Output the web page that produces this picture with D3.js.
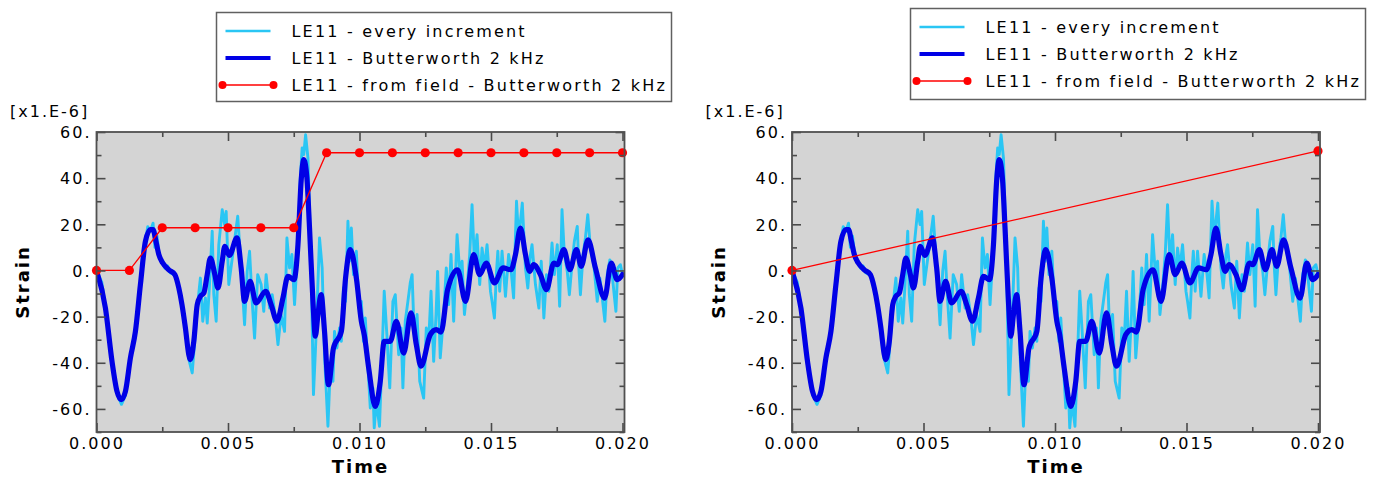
<!DOCTYPE html>
<html>
<head>
<meta charset="utf-8">
<script src="https://cdn.jsdelivr.net/npm/d3@7"></script>
<style>
  body { margin: 0; background: #ffffff; }
  text { font-family: "DejaVu Sans", Verdana, sans-serif; }
</style>
</head>
<body>
<div id="chart"></div>
<script>
// Times are in ms, strains in micro-strain [x1.E-6]

const rawTime = [
    0, 0.2, 0.35, 0.6, 0.8, 0.95, 1.1, 1.3, 1.48, 1.67, 1.86, 1.95, 2.05, 2.15, 2.22, 2.3, 2.4, 2.52, 2.6, 2.7,
    2.8, 2.98, 3.1, 3.25, 3.38, 3.5, 3.64, 3.75, 3.89, 3.95, 4.04, 4.14, 4.21, 4.29, 4.4, 4.46, 4.55, 4.65, 4.78, 4.87,
    4.93, 5.03, 5.18, 5.37, 5.5, 5.63, 5.73, 5.82, 5.92, 6.01, 6.13, 6.26, 6.36, 6.45, 6.58, 6.68, 6.79, 6.9, 7.02, 7.15,
    7.24, 7.34, 7.43, 7.53, 7.66, 7.75, 7.82, 7.88, 7.95, 8.04, 8.1, 8.16, 8.25, 8.35, 8.48, 8.58, 8.67, 8.8, 8.89, 8.99,
    9.05, 9.14, 9.24, 9.31, 9.39, 9.47, 9.56, 9.62, 9.69, 9.77, 9.88, 9.98, 10.07, 10.15, 10.22, 10.31, 10.41, 10.51, 10.56, 10.64,
    10.76, 10.85, 10.94, 11.04, 11.15, 11.27, 11.36, 11.49, 11.58, 11.65, 11.74, 11.84, 11.93, 12.0, 12.08, 12.19, 12.29, 12.44, 12.54, 12.63,
    12.72, 12.82, 12.91, 12.97, 13.07, 13.2, 13.3, 13.39, 13.48, 13.58, 13.71, 13.81, 13.9, 13.99, 14.09, 14.19, 14.28, 14.37, 14.47, 14.57,
    14.66, 14.75, 14.85, 14.98, 15.04, 15.13, 15.21, 15.26, 15.33, 15.42, 15.55, 15.67, 15.78, 15.86, 15.97, 16.05, 16.12, 16.19, 16.31, 16.4,
    16.5, 16.56, 16.69, 16.82, 16.91, 17.01, 17.11, 17.2, 17.32, 17.41, 17.52, 17.61, 17.7, 17.79, 17.9, 17.98, 18.09, 18.17, 18.28, 18.34,
    18.4, 18.5, 18.59, 18.68, 18.78, 18.91, 19.04, 19.14, 19.23, 19.33, 19.42, 19.52, 19.61, 19.67, 19.75, 19.82, 19.92, 20.0
];
const rawStrain = [
    0, -5, -17, -40, -54, -58, -54, -37, -25, -5, 13, 19, 17, 20.5, 10, 15, 5, 4, 1, 2,
    -1, -2, -6, -16, -26, -38, -44.4, -28, -9.8, -3.3, -22, -11.9, -22.8, -7.6, 17, -10.5, -22, 11.2, 26.3, 19.9,
    25.6, -6.1, 6.9, 23.5, 1.1, -23.5, -0.4, 8.3, -13.4, -29.3, -1.8, -6.1, -17.7, -1.8, -16.3, -10.5, -19.1, -32.1, -19.1, -26.4,
    14.1, 1.1, 6.9, -14.8, 11.2, 40.1, 53.1, 50.2, 58.8, 48.7, 25.6, 1.1, -53.8, -27.8, 14.1, 1.1, -36.5, -67.5, -42.3, -48,
    -26.4, -33.6, -24.9, -30.7, -7.6, -13.4, 21.3, 4, 18.4, -1.8, 8.3, -16.3, -13.4, -30.7, -20.6, -39.4, -59.6, -50.9, -68.2, -56.7,
    -67.5, -39.4, -9, -27.8, -50.9, -13.4, -10.5, -36.5, -24.9, -50.9, -22, -13.4, -5.4, -1.8, -27.8, -19.1, -48, -55.3, -24.9, -30.7,
    -9, -39.4, -19.1, -0.4, -37.9, -19.1, 1.1, -14.8, 6.9, -22, 15.5, -0.4, 4, -19.1, -7.6, 6.9, 28.5, 4, 15.5, -6.1,
    9.7, 1.1, 11.2, -9, -13.4, -20.6, -0.4, 8.3, -9, 8.3, -11.2, 6.9, -1.8, -11.9, 30, 14.1, 21.3, 29.2, 1.1, -7.6,
    6.9, 11.2, -6.1, -16.3, 4, -20.6, -1.8, -9, 11.9, -1.8, 11.2, -15.5, 26.3, 6.9, -0.4, -10.5, 4, 12.6, 19.1, 1.1,
    -10.5, 6.9, 14.1, 24.2, 9.7, 2.5, -13.4, -3.3, -11.9, -22, -1.8, 4.6, -1.8, -9, -17.7, 1.1, 2.5, -1.8
];

const filtTime = [
    0, 0.34, 0.59, 0.78, 0.94, 1.1, 1.29, 1.48, 1.67, 1.86, 2.05, 2.15, 2.26, 2.37, 2.52, 2.75, 2.98, 3.13, 3.25, 3.38,
    3.51, 3.57, 3.7, 3.83, 3.95, 4.08, 4.21, 4.33, 4.5, 4.62, 4.78, 4.88, 5.05, 5.34, 5.5, 5.63, 5.84, 6.07, 6.43, 6.64,
    6.86, 7.09, 7.28, 7.51, 7.66, 7.78, 7.88, 8.0, 8.1, 8.23, 8.32, 8.42, 8.54, 8.67, 8.82, 9.01, 9.31, 9.47, 9.65, 9.88,
    10.07, 10.18, 10.35, 10.6, 10.79, 10.94, 11.17, 11.4, 11.68, 11.96, 12.16, 12.34, 12.69, 12.92, 13.1, 13.35, 13.73, 14.03, 14.34, 14.57,
    14.82, 15.13, 15.46, 15.76, 15.93, 16.12, 16.31, 16.47, 16.62, 16.88, 17.11, 17.39, 17.52, 17.77, 18.0, 18.25, 18.43, 18.69, 18.97, 19.32,
    19.57, 19.8, 20.0
];
const filtStrain = [
    0, -16.3, -39.4, -52.4, -56, -52.4, -37.9, -26.4, -6.1, 12.6, 17.7, 17.7, 12.6, 6.9, 3.2, 0.3, -1.8, -7.6, -14.8, -24.9,
    -36.5, -38.6, -30.7, -14.8, -11.2, -9.8, -1.8, 5.4, -1.8, -7.6, 4, 10.5, 6.5, 14.1, 1.1, -13.4, -4.7, -14.1, -9, -14.8,
    -22, -11.9, -2.5, -4, 11.2, 38.6, 48, 40.1, 18.4, -13.4, -28.5, -19.1, -10.5, -26.4, -49.5, -33.6, -26.4, -3.3, 9, -3.3,
    -22, -27.8, -42.3, -58.9, -48, -30.7, -30.7, -22, -35.8, -18.4, -32.1, -41.5, -27.8, -25.6, -26.7, -8.3, 0.3, -13.4, 6.9, -1.8,
    3.2, -5.4, 1.1, 0.3, 6.9, 18.4, 6.9, -0.4, 2.5, -1.8, -8.3, 3.2, 2.5, 9, 0.3, 9, 1.8, 13.3, 1.1, -12,
    3.2, -4, -1.8
];

// "from field" output: every 1.25 ms on the left, only the two frames on the right
const fieldTimeAll = [0, 1.25, 2.5, 3.75, 5, 6.25, 7.5, 8.75, 10, 11.25, 12.5, 13.75, 15, 16.25, 17.5, 18.75, 20];
const fieldStrainAll = [0, 0, 18.5, 18.5, 18.5, 18.5, 18.5, 51, 51, 51, 51, 51, 51, 51, 51, 51, 51];
const fieldTimeEnds = [0, 20];
const fieldStrainEnds = [0, 51.8];

const xTicks = [0, 5, 10, 15, 20];
const xTickLabels = ['0.000', '0.005', '0.010', '0.015', '0.020'];
const xMinorTicks = [2.5, 7.5, 12.5, 17.5];
const yTicks = [-60, -40, -20, 0, 20, 40, 60];
const yTickLabels = ['-60.', '-40.', '-20.', '0.', '20.', '40.', '60.'];
const yMinorTicks = [-70, -50, -30, -10, 10, 30, 50];

const legendLabels = [
    'LE11 - every increment',
    'LE11 - Butterworth 2 kHz',
    'LE11 - from field - Butterworth 2 kHz'
];

function strainChart() {
    let canvas;

    let offsetX = 0,
        plot = {left: 96.5, top: 132, width: 526, height: 300},
        legend = {x: 216.5, y: 12.5, width: 455, height: 89},
        colors = {raw: '#2ac6f4', filt: '#0000e6', field: '#ff0000', bg: '#d4d4d4', frame: '#505050'};

    let fieldTime = null,
        fieldStrain = null,
        chartId = 'c';

    let x, y;

    function chart(svg) {
        x = d3.scaleLinear().domain([0, 20]).range([plot.left, plot.left + plot.width]);
        y = d3.scaleLinear().domain([-70, 60]).range([plot.top + plot.height, plot.top]);

        canvas = svg.append('g').attr('transform', 'translate(' + offsetX + ',0)');

        canvas.append('rect')
            .attr('x', plot.left)
            .attr('y', plot.top)
            .attr('width', plot.width + 2)
            .attr('height', plot.height)
            .attr('fill', colors.bg);

        canvas.append('clipPath')
            .attr('id', 'clip-' + chartId)
            .append('rect')
            .attr('x', plot.left)
            .attr('y', plot.top)
            .attr('width', plot.width + 2)
            .attr('height', plot.height);

        drawSeries();
        drawAxes();
        drawLegend();
    }

    // #region Chart drawing

    function drawSeries() {
        let g = canvas.append('g').attr('clip-path', 'url(#clip-' + chartId + ')');

        let rawLine = d3.line()
            .x(function(d, i) { return x(rawTime[i]); })
            .y(function(d) { return y(d); });

        g.append('path')
            .datum(rawStrain)
            .attr('d', rawLine)
            .attr('fill', 'none')
            .attr('stroke', colors.raw)
            .attr('stroke-width', 2.9)
            .attr('stroke-linejoin', 'round');

        let filtLine = d3.line()
            .x(function(d, i) { return x(filtTime[i]); })
            .y(function(d) { return y(d); })
            .curve(d3.curveMonotoneX);

        g.append('path')
            .datum(filtStrain)
            .attr('d', filtLine)
            .attr('fill', 'none')
            .attr('stroke', colors.filt)
            .attr('stroke-width', 5.2)
            .attr('stroke-linejoin', 'round')
            .attr('stroke-linecap', 'round');

        let fieldLine = d3.line()
            .x(function(d, i) { return x(fieldTime[i]); })
            .y(function(d) { return y(d); });

        canvas.append('path')
            .datum(fieldStrain)
            .attr('d', fieldLine)
            .attr('fill', 'none')
            .attr('stroke', colors.field)
            .attr('stroke-width', 1.3);

        canvas.selectAll('.field-dot')
            .data(fieldStrain)
            .enter()
            .append('circle')
            .attr('class', 'field-dot')
            .attr('cx', function(d, i) { return x(fieldTime[i]); })
            .attr('cy', function(d) { return y(d); })
            .attr('r', 4.6)
            .attr('fill', colors.field);
    }

    function styleAxis(g) {
        g.select('.domain').remove();
        g.selectAll('.tick line').attr('stroke', '#4a4a4a').attr('stroke-width', 1.6);
        g.selectAll('.tick text')
            .attr('fill', '#000')
            .style('font-size', '16px')
            .style('letter-spacing', '2px');
    }

    function drawAxes() {
        let bottom = plot.top + plot.height,
            right = plot.left + plot.width;

        // Major ticks point into the plot, minor ones are shorter
        canvas.append('g')
            .attr('transform', 'translate(' + plot.left + ',0)')
            .call(d3.axisLeft(y).tickValues(yTicks).tickSize(-9).tickPadding(5)
                .tickFormat(function(d, i) { return yTickLabels[i]; }))
            .call(styleAxis)
            .selectAll('.tick text').attr('dy', '0.36em');

        canvas.append('g')
            .attr('transform', 'translate(' + plot.left + ',0)')
            .call(d3.axisLeft(y).tickValues(yMinorTicks).tickSize(-5).tickFormat(''))
            .call(styleAxis);

        canvas.append('g')
            .attr('transform', 'translate(' + (right + 2) + ',0)')
            .call(d3.axisRight(y).tickValues(yTicks).tickSize(-9).tickFormat(''))
            .call(styleAxis);

        canvas.append('g')
            .attr('transform', 'translate(' + (right + 2) + ',0)')
            .call(d3.axisRight(y).tickValues(yMinorTicks).tickSize(-5).tickFormat(''))
            .call(styleAxis);

        canvas.append('g')
            .attr('transform', 'translate(0,' + bottom + ')')
            .call(d3.axisBottom(x).tickValues(xTicks).tickSize(-9).tickPadding(6)
                .tickFormat(function(d, i) { return xTickLabels[i]; }))
            .call(styleAxis);

        canvas.append('g')
            .attr('transform', 'translate(0,' + bottom + ')')
            .call(d3.axisBottom(x).tickValues(xMinorTicks).tickSize(-5).tickFormat(''))
            .call(styleAxis);

        canvas.append('g')
            .attr('transform', 'translate(0,' + plot.top + ')')
            .call(d3.axisTop(x).tickValues(xTicks).tickSize(-9).tickFormat(''))
            .call(styleAxis);

        canvas.append('g')
            .attr('transform', 'translate(0,' + plot.top + ')')
            .call(d3.axisTop(x).tickValues(xMinorTicks).tickSize(-5).tickFormat(''))
            .call(styleAxis);

        // Frame round the plot
        canvas.append('rect')
            .attr('x', plot.left)
            .attr('y', plot.top)
            .attr('width', plot.width + 2)
            .attr('height', plot.height)
            .attr('fill', 'none')
            .attr('stroke', colors.frame)
            .attr('stroke-width', 1.8);

        canvas.append('text')
            .attr('x', 10)
            .attr('y', 117)
            .style('font-size', '16px')
            .style('letter-spacing', '2px')
            .attr('fill', '#000')
            .text('[x1.E-6]');

        canvas.append('text')
            .attr('transform', 'translate(29,' + (plot.top + plot.height / 2) + ') rotate(-90)')
            .attr('text-anchor', 'middle')
            .style('font-size', '18px')
            .style('font-weight', 'bold')
            .style('letter-spacing', '2px')
            .attr('fill', '#000')
            .text('Strain');

        canvas.append('text')
            .attr('x', plot.left + plot.width / 2 + 1)
            .attr('y', 473)
            .attr('text-anchor', 'middle')
            .style('font-size', '18px')
            .style('font-weight', 'bold')
            .style('letter-spacing', '2px')
            .attr('fill', '#000')
            .text('Time');
    }

    function drawLegend() {
        let g = canvas.append('g')
            .attr('transform', 'translate(' + (legend.x - offsetX) + ',' + legend.y + ')');

        g.append('rect')
            .attr('width', legend.width)
            .attr('height', legend.height)
            .attr('fill', '#ffffff')
            .attr('stroke', '#606060')
            .attr('stroke-width', 1.5);

        let rowY = [18.5, 45.5, 72.5];

        g.append('line')
            .attr('x1', 9).attr('x2', 54)
            .attr('y1', rowY[0]).attr('y2', rowY[0])
            .attr('stroke', colors.raw).attr('stroke-width', 2.4);

        g.append('line')
            .attr('x1', 9).attr('x2', 54)
            .attr('y1', rowY[1]).attr('y2', rowY[1])
            .attr('stroke', colors.filt).attr('stroke-width', 4);

        g.append('line')
            .attr('x1', 6).attr('x2', 57)
            .attr('y1', rowY[2]).attr('y2', rowY[2])
            .attr('stroke', colors.field).attr('stroke-width', 1.3);

        g.selectAll('.legend-dot')
            .data([6, 57])
            .enter()
            .append('circle')
            .attr('class', 'legend-dot')
            .attr('cx', function(d) { return d; })
            .attr('cy', rowY[2])
            .attr('r', 4)
            .attr('fill', colors.field);

        g.selectAll('.legend-label')
            .data(legendLabels)
            .enter()
            .append('text')
            .attr('class', 'legend-label')
            .attr('x', 75)
            .attr('y', function(d, i) { return rowY[i]; })
            .attr('dy', '0.36em')
            .style('font-size', '16px')
            .style('letter-spacing', '2.2px')
            .attr('fill', '#000')
            .text(function(d) { return d; });
    }

    // #endregion

    // #region Getters and Setters

    chart.offsetX = function(value) {
        if (!arguments.length) {
            return offsetX;
        }
        offsetX = value;
        return chart;
    };

    chart.legend = function(value) {
        if (!arguments.length) {
            return legend;
        }
        legend = value;
        return chart;
    };

    chart.field = function(times, strains) {
        fieldTime = times;
        fieldStrain = strains;
        return chart;
    };

    chart.id = function(value) {
        chartId = value;
        return chart;
    };

    // #endregion

    return chart;
}

let svg = d3.select('#chart')
    .append('svg')
    .attr('width', 1373)
    .attr('height', 477);

strainChart()
    .id('left')
    .field(fieldTimeAll, fieldStrainAll)(svg);

strainChart()
    .id('right')
    .offsetX(695.5)
    .legend({x: 910.5, y: 8.5, width: 455, height: 91})
    .field(fieldTimeEnds, fieldStrainEnds)(svg);
</script>
</body>
</html>
